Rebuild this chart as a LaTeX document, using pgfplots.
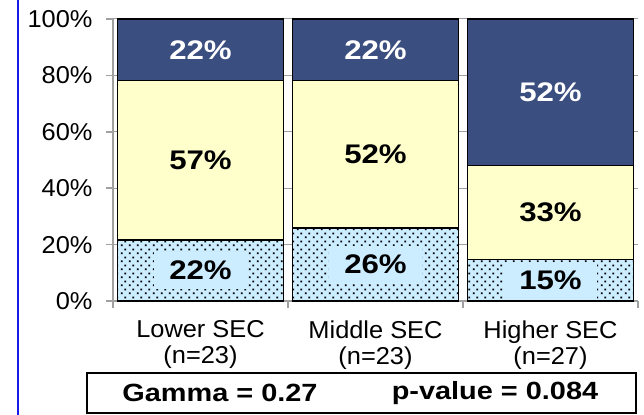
\documentclass[border=0pt]{standalone}
\usepackage{fontspec}
\setmainfont{Liberation Sans}[FakeStretch=1.04]
\newfontfamily\labfont{Liberation Sans}[FakeStretch=1.16]
\usepackage{pgfplots}
\pgfplotsset{compat=1.18}
\usetikzlibrary{patterns}

\definecolor{topblue}{RGB}{59,78,128}
\definecolor{midyellow}{RGB}{255,255,204}
\definecolor{lowblue}{RGB}{204,236,255}
\definecolor{gridgray}{RGB}{160,160,160}
\definecolor{sideblue}{RGB}{25,25,235}

% staggered dots, as in the Excel fill
\pgfdeclarepatternformonly{sparsedots}{\pgfpointorigin}{\pgfpoint{8bp}{8bp}}{\pgfpoint{8bp}{8bp}}{%
  \pgfpathrectangle{\pgfpoint{1bp}{1bp}}{\pgfpoint{2bp}{2bp}}%
  \pgfpathrectangle{\pgfpoint{5bp}{5bp}}{\pgfpoint{2bp}{2bp}}%
  \pgfusepath{fill}}

\begin{document}
\begin{tikzpicture}
\begin{axis}[
    scale only axis,
    width=525bp, height=282bp,
    ybar stacked,
    bar width=0.95,
    xmin=0.5, xmax=3.5,
    ymin=0, ymax=100,
    xtick={1,2,3},
    xticklabels={{Lower SEC\\(n=23)},{Middle SEC\\(n=23)},{Higher SEC\\(n=27)}},
    minor xtick={0.5,1.5,2.5,3.5},
    ytick={0,20,40,60,80,100},
    yticklabels={0\%,20\%,40\%,60\%,80\%,100\%},
    axis x line*=bottom,
    axis y line*=left,
    axis line style={gridgray, line width=1.5bp},
    ymajorgrids,
    grid style={gridgray, line width=1bp},
    tick align=outside,
    major tick length=7bp,
    minor tick length=7bp,
    major x tick style={draw=none},
    minor x tick style={gridgray, line width=1.5bp},
    ytick style={gridgray, line width=1.5bp},
    x tick label style={align=center, font=\fontsize{24.5}{26}\selectfont, yshift=-9bp},
    y tick label style={font=\fontsize{24.5}{25}\selectfont, xshift=-10bp},
    point meta=explicit symbolic,
    nodes near coords={\pgfplotspointmeta},
    nodes near coords style={font=\labfont\bfseries\fontsize{27}{27}\selectfont,
        anchor=center},
]
\addplot[fill=lowblue, draw=black, line width=1.5bp,
    postaction={pattern=sparsedots},
    nodes near coords style={fill=lowblue, text=black, inner xsep=15bp, inner ysep=9bp}]
    coordinates {(1,21.7) [22\%] (2,25.8) [26\%] (3,14.8) [15\%]};
\addplot[fill=midyellow, draw=black, line width=1.5bp,
    nodes near coords style={text=black}]
    coordinates {(1,56.5) [57\%] (2,52.4) [52\%] (3,33.3) [33\%]};
\addplot[fill=topblue, draw=black, line width=1.5bp,
    nodes near coords style={text=white}]
    coordinates {(1,21.8) [22\%] (2,21.8) [22\%] (3,51.9) [52\%]};
\end{axis}

\draw[line width=1.5bp]
    ([shift={(-26bp,-72bp)}]current axis.south west)
    rectangle ([shift={(523bp,-112bp)}]current axis.south west);
\node[font=\labfont\bfseries\fontsize{25}{25}\selectfont]
    at ([shift={(107bp,-92bp)}]current axis.south west) {Gamma = 0.27};
\node[font=\labfont\bfseries\fontsize{25}{25}\selectfont]
    at ([shift={(382bp,-92bp)}]current axis.south west) {p-value = 0.084};
\draw[sideblue, line width=2bp]
    ([shift={(-95bp,301bp)}]current axis.south west)
    -- ([shift={(-95bp,-114bp)}]current axis.south west);

\pgfresetboundingbox
\path[use as bounding box]
    ([shift={(-113bp,-114bp)}]current axis.south west)
    rectangle ([shift={(531bp,301bp)}]current axis.south west);
\end{tikzpicture}
\end{document}
